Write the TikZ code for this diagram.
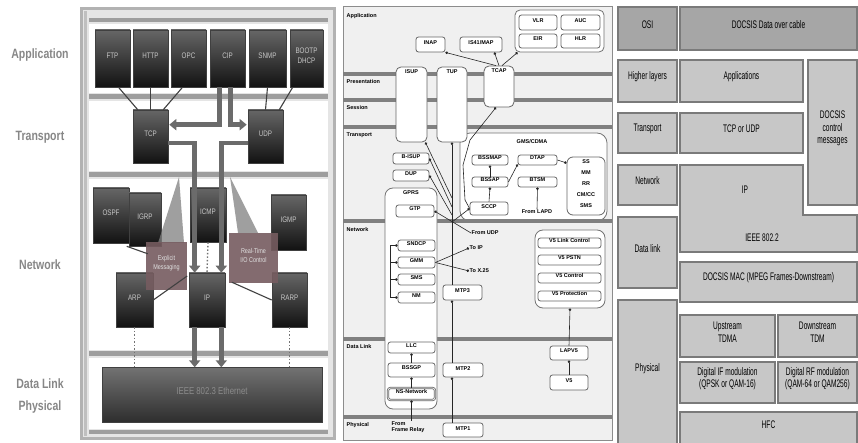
\documentclass[tikz,border=0pt]{standalone}
\usepackage{fontspec}
\setmainfont{Liberation Sans}
\newfontfamily\condfont[FakeStretch=0.78]{Liberation Sans}
\newfontfamily\rfont[FakeStretch=0.6]{Liberation Sans}
\usetikzlibrary{arrows.meta,fit,calc}
\definecolor{mauve}{RGB}{118,92,96}
\definecolor{lpgray}{RGB}{135,135,135}
\newcommand\mybox[5][]{\node[#1, fit={(#3)(#4)}] (#2) {#5};}
\begin{document}
\begin{tikzpicture}[x=1pt,y=-1pt,
  dbox/.style={draw=black!75, line width=.6pt, top color=black!60, bottom color=black!93, text=black!22, inner sep=0pt, font={\condfont\fontsize{8}{9.5}\selectfont}, align=center},
  callout/.style={fill=mauve, fill opacity=.9, text opacity=1, text=black!12, inner sep=0pt, font={\condfont\fontsize{7}{9}\selectfont}, align=center},
  bigarrow/.style={draw=black!58, line width=4.5pt, -{Triangle[length=7pt,width=11pt]}},
  thinl/.style={draw=black!75, line width=1.1pt},
  dotl/.style={draw=black!55, line width=1.4pt, dash pattern=on 1.5pt off 2pt},
  sidelbl/.style={font={\condfont\bfseries\fontsize{13.5}{22}\selectfont}, text=lpgray, align=center},
  mbox/.style={draw=black!60, line width=.8pt, rounded corners=2.5pt, fill=white, inner sep=0pt, font={\bfseries\fontsize{5.5}{6.5}\selectfont}, align=center},
  mgroup/.style={draw=black!55, line width=.8pt, rounded corners=8pt, fill=white, inner sep=0pt},
  mlbl/.style={font={\bfseries\fontsize{5.5}{6.5}\selectfont}, inner sep=0.5pt, align=left},
  mline/.style={draw=black!85, line width=.6pt},
  dotstart/.style={{Circle[length=2.6pt,width=2.6pt]}-},
  dotend/.style={-{Circle[length=2.6pt,width=2.6pt]}},
  sepbar/.style={draw=black!50, line width=3.5pt},
  rbox/.style={draw=black!52, line width=1.3pt, fill=black!22, inner sep=0pt, font={\rfont\fontsize{11}{12.5}\selectfont}, align=center},
  rtop/.style={rbox, fill=black!35}
]
\fill[white] (0,0) rectangle (858,443);
\useasboundingbox (0,0) rectangle (858,443);

% ---------------- left panel ----------------
\node[sidelbl] (lApp) at (40,55) {Application};
\node[sidelbl] (lTr) at (40,137) {Transport};
\node[sidelbl] (lNet) at (40,265) {Network};
\node[sidelbl] (lDL) at (40,396) {Data Link\\Physical};

\fill[black!30] (80,7) rectangle (336,440);
\fill[black!10] (83,10) rectangle (333,437);
\fill[black!38] (89,18) rectangle (328,22);
\fill[black!38] (89,94.5) rectangle (328,99);
\fill[black!38] (89,172.5) rectangle (328,177);
\fill[black!38] (89,351) rectangle (328,356);
\fill[black!38] (89,430) rectangle (328,434);
\fill[black!25] (84,11) rectangle (87,436);
\fill[white] (89,24) rectangle (328,93);
\fill[white] (89,101) rectangle (328,171);
\fill[white] (89,179) rectangle (328,350);
\fill[white] (89,358) rectangle (328,429);

\mybox[dbox]{ftp}{95,30}{130,87}{FTP}
\mybox[dbox]{http}{133,30}{168,87}{HTTP}
\mybox[dbox]{opc}{171,30}{206,87}{OPC}
\mybox[dbox]{cip}{210,30}{245,87}{CIP}
\mybox[dbox]{snmp}{249,30}{286,87}{SNMP}
\mybox[dbox]{bootp}{290,30}{323,87}{BOOTP\\DHCP}
\mybox[dbox]{tcp}{133,110}{168,163}{TCP}
\mybox[dbox]{udp}{248,110}{283,163}{UDP}

\draw[thinl] ($(ftp.south)+(6,0)$) -- ($(tcp.north west)+(5,0)$);
\draw[thinl] (http.south) -- (tcp.north);
\draw[thinl] ($(opc.south)+(-6,0)$) -- ($(tcp.north east)+(-5,0)$);
\draw[thinl] (snmp.south) -- (udp.north);
\draw[thinl] ($(bootp.south west)+(3,0)$) -- ($(udp.north east)+(-4,0)$);

\draw[bigarrow] ($(cip.south)+(-8,0)$) |- ($(tcp.north east)+(1,15)$);
\draw[bigarrow] ($(cip.south)+(3,0)$) |- ($(udp.north west)+(-1,15)$);

\mybox[dbox]{ospf}{93,188}{129,243}{OSPF}
\mybox[dbox]{igrp}{129,193}{161,246}{IGRP}
\mybox[dbox]{icmp}{190,188}{226,242}{ICMP}
\mybox[dbox]{igmp}{271,195}{306,250}{IGMP}
\mybox[dbox]{arp}{116,273}{153,327}{ARP}
\mybox[dbox]{ip}{189,273}{225,327}{IP}
\mybox[dbox]{rarp}{272,273}{307,327}{RARP}
\mybox[dbox, top color=black!55, bottom color=black!82, text=black!45, font={\condfont\fontsize{10}{11}\selectfont}]{ieee}{102,367}{322,422}{IEEE 802.3 Ethernet}

\draw[dotl] (icmp.south) -- (ip.north);
\draw[dotl] (arp.south) -- (arp.south |- ieee.north);
\draw[dotl] (rarp.south) -- (rarp.south |- ieee.north);

\draw[bigarrow] ($(tcp.east)+(0,6.5)$) -| ($(ip.north west)+(6,0)$);
\draw[bigarrow] ($(udp.west)+(0,6.5)$) -| ($(ip.north east)+(-4,0)$);
\draw[bigarrow] ($(ip.south west)+(6,0)$) -- ++(0,40);
\draw[bigarrow] ($(ip.south east)+(-4,0)$) -- ++(0,40);

\fill[black!50, opacity=.75] (179,177) -- (158,243) -- (184,243) -- cycle;
\fill[black!50, opacity=.75] (230,177) -- (238,233) -- (258,233) -- cycle;

\mybox[callout]{expl}{146,242}{187,290}{Explicit\\Messaging}
\mybox[callout]{rtio}{229,233}{278,283}{Real-Time\\I/O Control}
\draw[thinl] ($(expl.east)+(0,10)$) -- (arp.east);
\draw[thinl] ($(rtio.south west)+(3,-1)$) -- (rarp.west);
\draw[thinl] ($(igrp.south west)+(-2,0)$) -- ($(expl.north west)+(2,12)$);

% ---------------- middle panel ----------------
\fill[black!6] (343,7) rectangle (612,440);
\draw[black!45, line width=1pt] (343,7) rectangle (612,440);

\node[mgroup, rounded corners=5pt, fit={(515,10)(604,52)}] (grp) {};
\node[mgroup, rounded corners=10pt, fit={(460,133)(607,221)}] (gsm) {};
\node[mgroup, fit={(535,230)(605,308)}] (v5g) {};

\foreach \yy in {74,100,127,221,339,417} \draw[sepbar] (343,\yy) -- (612,\yy);

\node[mlbl, anchor=west] (mApp) at (346,16) {Application};
\node[mlbl, anchor=west] (mPre) at (346,82) {Presentation};
\node[mlbl, anchor=west] (mSes) at (346,108) {Session};
\node[mlbl, anchor=west] (mTra) at (346,135) {Transport};
\node[mlbl, anchor=west] (mNet) at (346,230) {Network};
\node[mlbl, anchor=west] (mDL) at (346,347) {Data Link};
\node[mlbl, anchor=west] (mPhy) at (346,425) {Physical};

\mybox[mbox]{inap}{416,37}{445,52}{INAP}
\mybox[mbox]{is41}{460,37}{502,52}{IS41/MAP}
\mybox[mbox]{vlr}{519,15}{557,30}{VLR}
\mybox[mbox]{auc}{561,15}{600,30}{AUC}
\mybox[mbox]{eir}{519,34}{557,48}{EIR}
\mybox[mbox]{hlr}{561,34}{600,48}{HLR}
\node[mbox, rounded corners=5pt, fit={(484,66)(514,107)}, label={[mlbl,anchor=north,yshift=-2pt]north:TCAP}] (tcap) {};
\node[mbox, rounded corners=5pt, fit={(396,67)(427,142)}, label={[mlbl,anchor=north,yshift=-2pt]north:ISUP}] (isup) {};
\node[mbox, rounded corners=5pt, fit={(437,67)(467,142)}, label={[mlbl,anchor=north,yshift=-2pt]north:TUP}] (tup) {};

\mybox[mbox]{bisup}{393,153}{429,164}{B-ISUP}
\mybox[mbox]{dup}{393,170}{429,181}{DUP}

\node[mgroup, fit={(385,188)(437,409)}, label={[mlbl,anchor=north,yshift=-2pt]north:GPRS}] (gprs) {};
\mybox[mbox]{gtp}{396,205}{434,217}{GTP}
\mybox[mbox]{sndcp}{398,240}{435,251}{SNDCP}
\mybox[mbox]{gmm}{398,257}{435,268}{GMM}
\mybox[mbox]{sms}{398,274}{435,285}{SMS}
\mybox[mbox]{nm}{398,292}{435,303}{NM}
\mybox[mbox]{llc}{388,342}{435,353}{LLC}
\mybox[mbox]{bssgp}{388,363}{435,377}{BSSGP}
\mybox[mbox, double, double distance=.6pt]{ns}{388,388}{435,400}{NS-Network}

\mybox[mbox]{mtp3}{443,285}{482,300}{MTP3}
\mybox[mbox]{mtp2}{443,363}{483,377}{MTP2}
\mybox[mbox]{mtp1}{443,423}{483,437}{MTP1}

\node[mlbl] (gsmlbl) at (532,142) {GMS/CDMA};
\mybox[mbox]{bssmap}{472,155}{508,165}{BSSMAP}
\mybox[mbox]{bssap}{472,177}{508,187}{BSSAP}
\mybox[mbox]{sccp}{470,202}{508,215}{SCCP}
\mybox[mbox]{dtap}{518,155}{557,165}{DTAP}
\mybox[mbox]{btsm}{518,177}{557,187}{BTSM}
\mybox[mbox, rounded corners=6pt, font={\bfseries\fontsize{5.5}{11}\selectfont}]{ssb}{567,157}{605,215}{SS\\MM\\RR\\CM/CC\\SMS}
\node[mlbl] (lapd) at (537,212) {From LAPD};

\mybox[mbox]{v5lc}{538,238}{601,248}{V5 Link Control}
\mybox[mbox]{v5pstn}{538,255}{601,265}{V5 PSTN}
\mybox[mbox]{v5ctl}{538,273}{601,283}{V5 Control}
\mybox[mbox]{v5prot}{538,291}{601,301}{V5 Protection}
\mybox[mbox]{lapv5}{550,346}{588,360}{LAPV5}
\mybox[mbox]{v5}{550,375}{588,390}{V5}

\node[mlbl, anchor=west] (fromudp) at (471,233) {From UDP};
\node[mlbl, anchor=west] (toip) at (469,248) {To IP};
\node[mlbl, anchor=west] (tox) at (469,271) {To X.25};
\node[mlbl, anchor=north west] (ffr) at (391,421) {From\\Frame Relay};

% middle connectors
\draw[mline, dotstart] (inap.south east) -- ($(tcap.north)+(-3,0)$);
\draw[mline, dotstart] ($(is41.south east)+(-8,0)$) -- (tcap.north);
\draw[mline, dotstart] ($(grp.south west)+(3,0)$) -- ($(tcap.north)+(3,0)$);
\draw[mline, dotstart] ($(tcap.south)+(-3,0)$) -- (470,140) -- (463,165) -- (465,200) -- (sccp.west);
\coordinate (jn) at (452,222);
\draw[mline, dotstart] (sccp.west) -- (jn);
\draw[mline, dotstart] ($(isup.south east)+(-2,0)$) -- (452,198);
\draw[mline, dotstart] (bisup.east) -- (452,207);
\draw[mline, dotstart] (dup.east) -- (452,215);
\draw[mline, dotstart] (tup.south) -- (tup.south |- mtp3.north);
\draw[mline, dotstart] (mtp3.south -| tup.south) -- (mtp2.north -| tup.south);
\draw[mline, dotstart] (mtp2.south -| tup.south) -- (mtp1.north -| tup.south);
\draw[mline, dotstart] (gtp.east) -- (fromudp.west);
\draw[mline, dotend] (gmm.east) -- (toip.west);
\draw[mline, dotend] (gmm.east) -- (tox.west);
\coordinate (brk) at (390,0);
\draw[mline] (sndcp.west -| brk) -- (nm.west -| brk);
\foreach \n in {sndcp,gmm,sms,nm} \draw[mline, dotend] (\n.west -| brk) -- (\n.west);
\draw[mline, dotstart] (llc.south) -- (bssgp.north);
\draw[mline, dotstart] (bssgp.south) -- (ns.north);
\draw[mline, dotstart] (ns.south) -- (ns.south |- ffr.north);
\draw[mline, dotstart] (bssmap.south) -- (bssap.north);
\draw[mline, dotstart] (bssap.south) -- (sccp.north);
\draw[mline, dotstart] ($(dtap.south west)+(0,-1)$) -- (bssap.east);
\draw[mline, dotend] (dtap.east) -- ($(ssb.west)+(0,-23)$);
\draw[mline, dotstart] (btsm.south) -- (lapd.north);
\draw[mline, dotstart] (v5g.south) -- (lapv5.north);
\draw[mline, dotstart] (lapv5.south) -- (v5.north);

% ---------------- right panel ----------------
\mybox[rtop]{osi}{618,7}{677,50}{OSI}
\mybox[rtop]{docsis}{680,7}{857,50}{DOCSIS Data over cable}
\mybox[rbox]{hl}{618,60}{677,102}{Higher layers}
\mybox[rbox]{apps}{680,60}{803,102}{Applications}
\mybox[rbox]{rtr}{618,113}{677,153}{Transport}
\mybox[rbox]{tcpudp}{680,113}{803,153}{TCP or UDP}
\mybox[rbox]{rnet}{618,165}{677,205}{Network}
\mybox[rbox]{ctrl}{808,60}{857,205}{DOCSIS\\control\\messages}
\filldraw[draw=black!52, line width=1.3pt, fill=black!22] (680,165) -- (803,165) -- (803,215) -- (857,215) -- (857,252) -- (680,252) -- cycle;
\node[font={\rfont\fontsize{11}{12.5}\selectfont}] (ipl) at (745,190) {IP};
\node[font={\rfont\fontsize{11}{12.5}\selectfont}] (ieeel) at (762,238) {IEEE 802.2};
\mybox[rbox]{rdl}{618,217}{677,288}{Data link}
\mybox[rbox]{mac}{680,262}{857,302}{DOCSIS MAC (MPEG Frames-Downstream)}
\mybox[rbox]{rphy}{618,300}{677,446}{Physical}
\mybox[rbox]{up}{680,315}{775,357}{Upstream\\TDMA}
\mybox[rbox]{down}{778,315}{857,357}{Downstream\\TDM}
\mybox[rbox]{dif}{680,362}{775,403}{Digital IF modulation\\(QPSK or QAM-16)}
\mybox[rbox]{drf}{778,362}{857,403}{Digital RF modulation\\(QAM-64 or QAM256)}
\mybox[rbox]{hfc}{680,412}{857,446}{HFC}
\end{tikzpicture}
\end{document}
